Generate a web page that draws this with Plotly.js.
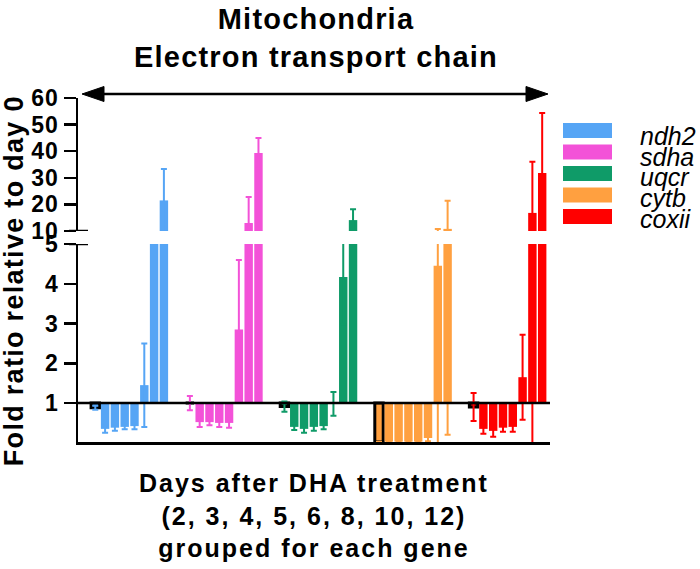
<!DOCTYPE html>
<html>
<head>
<meta charset="utf-8">
<script src="https://cdn.plot.ly/plotly-3.0.1.min.js"></script>
<style>
  html, body { margin: 0; padding: 0; background: #ffffff; }
  #chart { width: 700px; height: 569px; }
  #chart .gtitle { letter-spacing: 1.2px; }
  #chart g.annotation[data-index="5"] text { letter-spacing: 1.3px; }
  #chart g.annotation[data-index="6"] text { letter-spacing: 2px; }
  #chart .ytick text, #chart .y2tick text { letter-spacing: 1px; }
</style>
</head>
<body>
<div id="chart"></div>
<script>
// ---- data (fold ratio relative to day 0) ----
const days = [2, 3, 4, 5, 6, 8, 10, 12];
const genes = ['ndh2', 'sdha', 'uqcr', 'cytb', 'coxii'];
const geneColors = ['#56A5F5', '#F352D8', '#0F9B68', '#FFA040', '#FF0000'];

const ndh2 = [0.88, 0.35, 0.38, 0.40, 0.42, 1.45, 7.5, 21.5];
const ndh2Err = [0.05, 0.10, 0.08, 0.06, 0.08, 1.05, 1.5, 11.8];
const sdha = [1.00, 0.52, 0.52, 0.50, 0.50, 2.85, 13.0, 39.3];
const sdhaErr = [0.18, 0.12, 0.08, 0.10, 0.12, 1.75, 9.8, 5.7];
const uqcr = [0.91, 0.40, 0.35, 0.40, 0.42, 0.98, 4.17, 14.1];
const uqcrErr = [0.13, 0.08, 0.10, 0.10, 0.08, 0.30, 1.2, 4.1];
const cytb = [0.02, 0.03, 0.03, 0.03, 0.03, 0.12, 4.45, 10.8];
const cytbErr = [0.00, 0.00, 0.00, 0.00, 0.00, 0.08, 6.3, 10.6];
const coxii = [0.90, 0.35, 0.30, 0.38, 0.40, 1.65, 16.8, 31.8];
const coxiiErr = [0.35, 0.12, 0.15, 0.10, 0.12, 1.07, 19.2, 22.6];

const lowTicks = [1, 2, 3, 4, 5];
const highTicks = [10, 20, 30, 40, 50, 60];

const values = [ndh2, sdha, uqcr, cytb, coxii];
const errors = [ndh2Err, sdhaErr, uqcrErr, cytbErr, coxiiErr];

// ---- geometry helpers (layout only) ----
const L = 78, R = 550, T = 98, B = 442;
const W = 700, H = 569;
const px = x => (x - L) / (R - L);
const py = y => (B - y) / (B - T);
const GROUP = 9.65;   // slot distance between gene groups

const FONT = 'Arial, "Liberation Sans", sans-serif';

const traces = [];
genes.forEach((g, gi) => {
  const color = geneColors[gi];
  const x = days.map((d, i) => gi * GROUP + i);
  const y = values[gi].map(v => v - 1);
  ['y', 'y2'].forEach(ya => {
    traces.push({
      type: 'bar', name: g, x: x, y: y, base: 1, yaxis: ya, width: 0.86,
      marker: {
        color: color,
        line: {
          color: days.map((d, i) => i === 0 ? '#000000' : color),
          width: days.map((d, i) => i === 0 ? 3 : 0)
        }
      },
      error_y: { type: 'data', array: errors[gi], visible: true, color: color, thickness: 2, width: 3 },
      showlegend: false, hoverinfo: 'skip'
    });
  });
});

const shapes = [];
const annotations = [];

// baseline at fold = 1
shapes.push({ type: 'line', xref: 'paper', yref: 'y', x0: 0, x1: 1, y0: 1, y1: 1,
  line: { color: '#000', width: 2.5 }, layer: 'above' });
// axis break marks
shapes.push({ type: 'line', xref: 'paper', yref: 'y2', x0: px(69), x1: px(88), y0: 10, y1: 10,
  line: { color: '#000', width: 2.5 } });
shapes.push({ type: 'line', xref: 'paper', yref: 'y', x0: px(69), x1: px(88), y0: 5, y1: 5,
  line: { color: '#000', width: 2.5 } });
// double-headed arrow
const ay = 94;
shapes.push({ type: 'line', xref: 'paper', yref: 'paper', x0: px(100), x1: px(530), y0: py(ay), y1: py(ay),
  line: { color: '#000', width: 2.5 } });
shapes.push({ type: 'path', xref: 'paper', yref: 'paper',
  path: `M ${px(82)},${py(ay)} L ${px(104)},${py(ay - 7.5)} L ${px(104)},${py(ay + 7.5)} Z`,
  fillcolor: '#000', line: { color: '#000', width: 1 } });
shapes.push({ type: 'path', xref: 'paper', yref: 'paper',
  path: `M ${px(548)},${py(ay)} L ${px(526)},${py(ay - 7.5)} L ${px(526)},${py(ay + 7.5)} Z`,
  fillcolor: '#000', line: { color: '#000', width: 1 } });

// legend (swatches + italic labels)
genes.forEach((g, gi) => {
  const cy = 130.5 + 21.5 * gi;
  shapes.push({ type: 'rect', xref: 'paper', yref: 'paper',
    x0: px(563), x1: px(612), y0: py(cy - 7.5), y1: py(cy + 7.5),
    fillcolor: geneColors[gi], line: { width: 0 } });
  annotations.push({ xref: 'paper', yref: 'paper', x: px(638), y: py(136 + 20.7 * gi),
    xanchor: 'left', yanchor: 'middle', showarrow: false, text: g,
    font: { family: FONT, size: 25, color: '#000', style: 'italic' } });
});

// axis titles
annotations.push({ xref: 'paper', yref: 'paper', x: px(14), y: py(281), textangle: -90,
  xanchor: 'center', yanchor: 'middle', showarrow: false,
  text: 'Fold ratio relative to day 0',
  font: { family: FONT, size: 27, color: '#000', weight: 'bold' } });
annotations.push({ xref: 'paper', yref: 'paper', x: px(314), y: py(515),
  xanchor: 'center', yanchor: 'middle', showarrow: false, align: 'center',
  text: 'Days after DHA treatment<br>(2, 3, 4, 5, 6, 8, 10, 12)<br>grouped for each gene',
  font: { family: FONT, size: 25, color: '#000', weight: 'bold' } });

const tickFont = { family: FONT, size: 23, color: '#000', weight: 'bold' };

const layout = {
  width: W, height: H,
  margin: { l: L, r: W - R, t: T, b: H - B, pad: 0 },
  paper_bgcolor: '#fff', plot_bgcolor: '#fff',
  barmode: 'overlay',
  showlegend: false,
  title: {
    text: 'Mitochondria<br>Electron transport chain',
    xref: 'paper', x: px(316), xanchor: 'center',
    yref: 'container', y: 1 - 29 / H, yanchor: 'middle', pad: { t: 0, b: 0, l: 0, r: 0 },
    font: { family: FONT, size: 29, color: '#000', weight: 'bold' }
  },
  xaxis: {
    range: [(L - 95.3) / 9.8, (R - 95.3) / 9.8],
    showline: true, linecolor: '#000', linewidth: 2.5,
    showticklabels: false, ticks: '', showgrid: false, zeroline: false, fixedrange: true
  },
  yaxis: {
    domain: [0, py(244)], range: [0.02, 5],
    tickvals: lowTicks, ticktext: lowTicks.map(String),
    showline: true, linecolor: '#000', linewidth: 2.5,
    ticks: 'outside', ticklen: 12, tickwidth: 2.5, tickcolor: '#000',
    tickfont: tickFont, showgrid: false, zeroline: false, fixedrange: true
  },
  yaxis2: {
    domain: [py(231), 1], range: [10, 60], anchor: 'x',
    tickvals: highTicks, ticktext: highTicks.map(String),
    showline: true, linecolor: '#000', linewidth: 2.5,
    ticks: 'outside', ticklen: 12, tickwidth: 2.5, tickcolor: '#000',
    tickfont: tickFont, showgrid: false, zeroline: false, fixedrange: true
  },
  shapes: shapes,
  annotations: annotations
};

Plotly.newPlot('chart', traces, layout, { staticPlot: true, displayModeBar: false });
</script>
</body>
</html>
